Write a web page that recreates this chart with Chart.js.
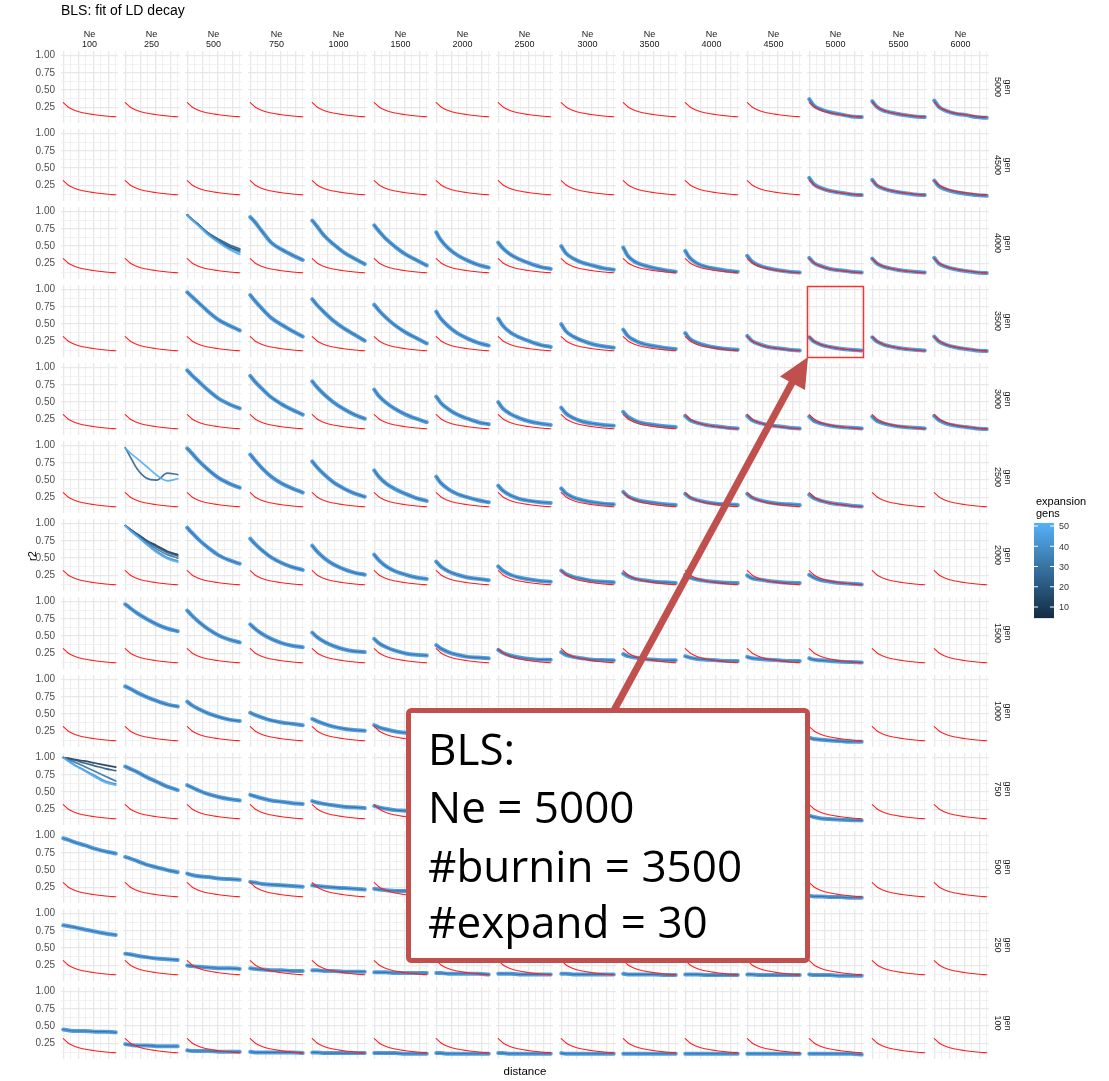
<!DOCTYPE html>
<html><head><meta charset="utf-8">
<script src="https://cdn.jsdelivr.net/npm/chart.js@4/dist/chart.umd.min.js"></script>
<style>
html,body{margin:0;padding:0;background:#fff}
body{width:1109px;height:1081px;position:relative;overflow:hidden;font-family:"Liberation Sans",Arial,sans-serif}
canvas{position:absolute}
#ov{position:absolute;left:0;top:0;z-index:5}
</style></head><body>
<script>
// ---------- data ----------
const neLabels = ['100','250','500','750','1000','1500','2000','2500','3000','3500','4000','4500','5000','5500','6000'];
const genLabels = ['5000','4500','4000','3500','3000','2500','2000','1500','1000','750','500','250','100'];
const distance = [0, 0.3, 0.8, 1.4, 2.1, 2.8, 3.5];
const refDistance = [0, 0.15, 0.3, 0.5, 0.8, 1.1, 1.5, 2, 2.5, 3, 3.5];
const refR2 = [0.32, 0.29, 0.26, 0.235, 0.205, 0.185, 0.165, 0.148, 0.134, 0.122, 0.115];
const yTicks = [0.125, 0.25, 0.375, 0.5, 0.625, 0.75, 0.875, 1];
const yMajorLabels = ['0.25', '0.50', '0.75', '1.00'];
const xTicks = [0, 0.5, 1, 1.5, 2, 2.5, 3, 3.5];
const legendTicks = [10, 20, 30, 40, 50];
const fanGens = [10, 20, 30, 40, 50];
const fanGensTwo = [25, 50];

const fanNe500Gen4000 = [
  [0.95,0.89,0.80,0.68,0.58,0.49,0.43],
  [0.95,0.89,0.80,0.69,0.60,0.52,0.46],
  [0.95,0.89,0.80,0.68,0.59,0.51,0.45],
  [0.94,0.88,0.79,0.67,0.56,0.47,0.41],
  [0.94,0.88,0.78,0.66,0.55,0.45,0.38]];
const fanNe250Gen2500 = [
  [0.97,0.85,0.66,0.53,0.50,0.60,0.58],
  [0.96,0.90,0.81,0.70,0.57,0.49,0.52]];
const fanNe250Gen2000 = [
  [0.97,0.92,0.85,0.76,0.68,0.60,0.55],
  [0.97,0.92,0.84,0.75,0.66,0.58,0.53],
  [0.97,0.91,0.83,0.73,0.63,0.55,0.50],
  [0.97,0.91,0.82,0.71,0.60,0.51,0.46],
  [0.97,0.90,0.81,0.70,0.58,0.49,0.44]];
const fanNe100Gen750 = [
  [1.00,0.99,0.97,0.95,0.92,0.89,0.86],
  [1.00,0.98,0.96,0.92,0.88,0.84,0.81],
  [1.00,0.97,0.93,0.87,0.80,0.73,0.66],
  [1.00,0.96,0.89,0.82,0.74,0.66,0.62],
  [1.00,0.95,0.88,0.81,0.72,0.64,0.60]];

const blueGen5000 = [null,null,null,null,null,null,null,null,null,null,null,null,
  [0.37,0.28,0.22,0.18,0.15,0.12,0.11],[0.34,0.26,0.20,0.17,0.14,0.12,0.11],[0.35,0.26,0.20,0.16,0.14,0.11,0.10]];
const blueGen4500 = [null,null,null,null,null,null,null,null,null,null,null,null,
  [0.36,0.27,0.21,0.17,0.145,0.12,0.11],[0.33,0.25,0.20,0.165,0.14,0.12,0.11],[0.32,0.24,0.19,0.155,0.13,0.11,0.10]];
const blueGen4000 = [null,null,fanNe500Gen4000,
  [0.92,0.85,0.71,0.55,0.45,0.37,0.30],[0.87,0.79,0.65,0.53,0.41,0.32,0.24],[0.80,0.72,0.60,0.49,0.38,0.30,0.22],
  [0.70,0.59,0.47,0.37,0.29,0.23,0.19],[0.55,0.47,0.38,0.31,0.25,0.20,0.17],[0.50,0.40,0.32,0.26,0.22,0.18,0.16],
  [0.48,0.36,0.27,0.22,0.18,0.15,0.13],[0.43,0.33,0.25,0.20,0.17,0.145,0.13],[0.36,0.28,0.22,0.18,0.15,0.13,0.12],
  [0.33,0.26,0.21,0.17,0.15,0.13,0.12],[0.32,0.25,0.20,0.17,0.145,0.13,0.12],[0.33,0.25,0.20,0.165,0.14,0.12,0.11]];
const blueGen3500 = [null,null,
  [0.96,0.90,0.80,0.68,0.56,0.48,0.41],[0.92,0.84,0.72,0.59,0.49,0.40,0.32],[0.86,0.78,0.67,0.55,0.44,0.35,0.26],
  [0.78,0.70,0.59,0.48,0.38,0.30,0.22],[0.68,0.58,0.47,0.37,0.29,0.23,0.19],[0.58,0.48,0.38,0.31,0.25,0.20,0.17],
  [0.50,0.40,0.32,0.26,0.21,0.18,0.16],[0.42,0.33,0.26,0.21,0.18,0.155,0.14],[0.37,0.29,0.23,0.19,0.16,0.14,0.13],
  [0.33,0.26,0.21,0.17,0.15,0.13,0.12],[0.31,0.25,0.20,0.17,0.145,0.13,0.12],[0.31,0.25,0.20,0.17,0.145,0.13,0.12],
  [0.32,0.25,0.20,0.165,0.14,0.12,0.11]];
const blueGen3000 = [null,null,
  [0.96,0.89,0.79,0.67,0.55,0.47,0.41],[0.88,0.80,0.69,0.57,0.47,0.39,0.32],[0.80,0.72,0.61,0.50,0.40,0.32,0.26],
  [0.68,0.59,0.49,0.40,0.32,0.26,0.21],[0.58,0.49,0.40,0.32,0.26,0.21,0.18],[0.50,0.41,0.33,0.27,0.22,0.19,0.17],
  [0.42,0.34,0.27,0.22,0.19,0.17,0.16],[0.36,0.29,0.23,0.19,0.17,0.15,0.14],[0.30,0.24,0.20,0.17,0.15,0.13,0.12],
  [0.30,0.24,0.20,0.17,0.15,0.13,0.12],[0.29,0.23,0.19,0.16,0.14,0.13,0.12],[0.29,0.23,0.19,0.16,0.14,0.13,0.12],
  [0.30,0.24,0.19,0.16,0.14,0.12,0.11]];
const blueGen2500 = [null,fanNe250Gen2500,
  [0.96,0.89,0.77,0.65,0.53,0.45,0.39],[0.87,0.79,0.67,0.55,0.45,0.38,0.32],[0.77,0.69,0.58,0.47,0.38,0.31,0.26],
  [0.64,0.55,0.45,0.37,0.30,0.24,0.20],[0.55,0.46,0.37,0.30,0.25,0.21,0.18],[0.42,0.35,0.28,0.23,0.20,0.18,0.17],
  [0.38,0.31,0.25,0.21,0.18,0.16,0.15],[0.33,0.27,0.22,0.19,0.17,0.15,0.14],[0.30,0.25,0.21,0.18,0.16,0.15,0.14],
  [0.30,0.25,0.21,0.18,0.16,0.15,0.14],[0.29,0.24,0.20,0.17,0.15,0.13,0.12],null,null];
const blueGen2000 = [null,fanNe250Gen2000,
  [0.94,0.87,0.76,0.65,0.54,0.47,0.42],[0.78,0.71,0.61,0.51,0.43,0.37,0.33],[0.68,0.60,0.50,0.41,0.34,0.29,0.26],
  [0.55,0.47,0.38,0.31,0.26,0.22,0.20],[0.45,0.38,0.31,0.26,0.22,0.20,0.18],[0.38,0.32,0.26,0.22,0.19,0.17,0.16],
  [0.32,0.27,0.23,0.20,0.17,0.16,0.15],[0.28,0.24,0.20,0.18,0.16,0.15,0.14],[0.26,0.22,0.19,0.17,0.155,0.145,0.14],
  [0.25,0.21,0.19,0.17,0.155,0.145,0.14],[0.26,0.22,0.18,0.16,0.14,0.13,0.12],null,null];
const blueGen1500 = [null,
  [0.96,0.91,0.83,0.75,0.67,0.61,0.57],[0.87,0.80,0.70,0.60,0.51,0.45,0.41],[0.67,0.61,0.53,0.46,0.40,0.36,0.34],
  [0.55,0.49,0.42,0.36,0.31,0.28,0.27],[0.46,0.40,0.34,0.29,0.25,0.23,0.22],[0.37,0.32,0.27,0.23,0.20,0.19,0.18],
  [0.30,0.26,0.22,0.19,0.17,0.16,0.16],[0.27,0.23,0.20,0.18,0.16,0.155,0.15],[0.24,0.21,0.19,0.17,0.16,0.15,0.15],
  [0.21,0.19,0.17,0.16,0.15,0.14,0.14],[0.20,0.18,0.17,0.16,0.15,0.14,0.14],[0.18,0.16,0.15,0.14,0.13,0.125,0.12],null,null];
const blueGen1000 = [null,
  [0.90,0.87,0.81,0.75,0.69,0.64,0.61],[0.68,0.63,0.57,0.51,0.46,0.42,0.40],[0.52,0.49,0.45,0.41,0.38,0.36,0.34],
  [0.43,0.40,0.36,0.32,0.29,0.27,0.26],[0.34,0.31,0.28,0.25,0.23,0.22,0.21],[0.28,0.26,0.23,0.21,0.19,0.18,0.18],
  [0.24,0.22,0.20,0.18,0.17,0.16,0.16],[0.21,0.19,0.18,0.17,0.16,0.15,0.15],[0.19,0.18,0.17,0.16,0.15,0.14,0.14],
  [0.18,0.17,0.16,0.15,0.14,0.135,0.13],[0.17,0.16,0.15,0.14,0.135,0.13,0.125],[0.16,0.14,0.13,0.12,0.11,0.10,0.10],null,null];
const blueGen750 = [fanNe100Gen750,
  [0.87,0.84,0.79,0.72,0.65,0.58,0.53],[0.60,0.57,0.52,0.47,0.43,0.40,0.38],[0.46,0.44,0.41,0.38,0.36,0.34,0.33],
  [0.37,0.35,0.33,0.31,0.29,0.28,0.27],[0.30,0.28,0.26,0.24,0.23,0.22,0.21],[0.25,0.23,0.22,0.20,0.19,0.18,0.18],
  [0.21,0.20,0.19,0.18,0.17,0.16,0.16],[0.19,0.18,0.17,0.16,0.15,0.15,0.14],[0.17,0.16,0.15,0.15,0.14,0.14,0.13],
  [0.16,0.15,0.14,0.14,0.13,0.13,0.12],[0.16,0.15,0.14,0.13,0.12,0.12,0.11],[0.16,0.14,0.12,0.11,0.10,0.095,0.09],null,null];
const blueGen500 = [
  [0.96,0.94,0.90,0.86,0.81,0.77,0.74],[0.69,0.67,0.63,0.58,0.54,0.50,0.47],[0.45,0.43,0.41,0.40,0.38,0.37,0.36],
  [0.33,0.32,0.30,0.29,0.28,0.27,0.26],[0.28,0.27,0.26,0.25,0.24,0.23,0.22],[0.23,0.22,0.21,0.20,0.20,0.19,0.19],
  [0.20,0.19,0.18,0.18,0.17,0.17,0.16],[0.18,0.17,0.17,0.16,0.16,0.15,0.15],[0.17,0.16,0.16,0.15,0.15,0.14,0.14],
  [0.16,0.15,0.15,0.14,0.14,0.13,0.13],[0.15,0.14,0.14,0.13,0.13,0.12,0.12],[0.14,0.14,0.13,0.13,0.12,0.12,0.11],
  [0.13,0.12,0.12,0.11,0.11,0.10,0.10],null,null];
const blueGen250 = [
  [0.83,0.82,0.80,0.77,0.74,0.71,0.69],[0.42,0.41,0.39,0.37,0.35,0.34,0.33],[0.25,0.24,0.23,0.22,0.21,0.21,0.20],
  [0.21,0.20,0.19,0.18,0.18,0.17,0.17],[0.18,0.18,0.17,0.17,0.16,0.16,0.16],[0.15,0.15,0.15,0.14,0.14,0.14,0.14],
  [0.14,0.14,0.13,0.13,0.13,0.13,0.12],[0.13,0.13,0.13,0.12,0.12,0.12,0.12],[0.13,0.13,0.12,0.12,0.12,0.12,0.12],
  [0.13,0.12,0.12,0.12,0.12,0.11,0.11],[0.12,0.12,0.12,0.11,0.11,0.11,0.11],[0.12,0.12,0.11,0.11,0.11,0.11,0.11],
  [0.12,0.11,0.11,0.11,0.10,0.10,0.10],null,null];
const blueGen100 = [
  [0.45,0.44,0.43,0.43,0.42,0.42,0.41],[0.24,0.23,0.22,0.22,0.21,0.21,0.21],[0.15,0.14,0.14,0.14,0.13,0.13,0.13],
  [0.13,0.12,0.12,0.12,0.12,0.12,0.11],[0.12,0.12,0.11,0.11,0.11,0.11,0.11],[0.11,0.11,0.11,0.11,0.10,0.10,0.10],
  [0.11,0.11,0.10,0.10,0.10,0.10,0.10],[0.11,0.11,0.10,0.10,0.10,0.10,0.10],[0.11,0.10,0.10,0.10,0.10,0.10,0.10],
  [0.10,0.10,0.10,0.10,0.10,0.10,0.10],[0.10,0.10,0.10,0.10,0.10,0.10,0.10],[0.10,0.10,0.10,0.10,0.10,0.10,0.10],
  [0.10,0.10,0.10,0.10,0.10,0.10,0.09],null,null];

const blueRows = [blueGen5000, blueGen4500, blueGen4000, blueGen3500, blueGen3000, blueGen2500, blueGen2000,
  blueGen1500, blueGen1000, blueGen750, blueGen500, blueGen250, blueGen100];
const fanGenMap = new Map([[fanNe250Gen2500, fanGensTwo]]);

// ---------- layout ----------
const PX0 = 61, PDX = 62.2, PY0 = 51, PDY = 78, PW = 57, PH = 72, LABW = 34, LABPAD = 7;
const Y_MIN = 0.025, Y_MAX = 1.065, X_MIN = -0.15, X_MAX = 3.65;
const panelLeft = c => Math.round(PX0 + PDX * c);
const panelTop = r => PY0 + PDY * r;

function gensColor(g, a) {
  const t = Math.max(0, Math.min(1, (g - 4.5) / 47));
  const lo = [19, 43, 67], hi = [86, 177, 247];
  const c = lo.map((v, i) => Math.round(v + (hi[i] - v) * t));
  return `rgba(${c[0]},${c[1]},${c[2]},${a})`;
}
const pts = (xs, ys) => xs.map((d, i) => ({x: d, y: ys[i]}));
const isMajorY = v => Math.abs(v * 4 - Math.round(v * 4)) < 1e-6;
const isMajorX = v => Math.abs(v - Math.round(v)) < 1e-6;

genLabels.forEach((gl, r) => {
  const row = blueRows[r];
  neLabels.forEach((nl, c) => {
    const extra = c === 0 ? LABW : 0;
    const pad = c === 0 ? LABPAD : 0;
    const cv = document.createElement('canvas');
    cv.width = PW + extra; cv.height = PH + 2 * pad;
    cv.style.left = (panelLeft(c) - extra) + 'px';
    cv.style.top = (panelTop(r) - pad) + 'px';
    cv.style.width = (PW + extra) + 'px';
    cv.style.height = (PH + 2 * pad) + 'px';
    document.body.appendChild(cv);

    const ds = [{data: pts(refDistance, refR2), borderColor: '#ff1f1f', borderWidth: 1.1}];
    const entry = row[c];
    if (entry) {
      if (Array.isArray(entry[0])) {
        const gens = fanGenMap.get(entry) || fanGens;
        const order = entry.map((a, k) => k).sort((a, b) => gens[b] - gens[a]);
        order.forEach(k => ds.push({data: pts(distance, entry[k]), borderColor: gensColor(gens[k], 0.9), borderWidth: 1.7}));
      } else {
        ds.push({data: pts(distance, entry), borderColor: 'rgba(22,50,82,0.4)', borderWidth: 1.1});
        ds.push({data: pts(distance, entry), borderColor: '#559fe0', borderWidth: 4});
      }
    }
    new Chart(cv, {
      type: 'line',
      data: {datasets: ds},
      options: {
        responsive: false, animation: false, events: [],
        layout: {padding: {top: pad, bottom: pad, left: 0, right: 0}},
        plugins: {legend: {display: false}, tooltip: {enabled: false}},
        elements: {point: {radius: 0}, line: {cubicInterpolationMode: 'monotone', borderCapStyle: 'round', borderJoinStyle: 'round'}},
        scales: {
          x: {type: 'linear', min: X_MIN, max: X_MAX,
            afterBuildTicks: s => { s.ticks = xTicks.map(v => ({value: v})); },
            afterFit: s => { s.height = 0; s.paddingLeft = 0; s.paddingRight = 0; },
            ticks: {display: false},
            border: {display: false},
            grid: {drawTicks: false,
              color: ctx => isMajorX(ctx.tick.value) ? '#e8e8e8' : '#efefef',
              lineWidth: ctx => isMajorX(ctx.tick.value) ? 1.3 : 0.9}},
          y: {type: 'linear', min: Y_MIN, max: Y_MAX,
            afterBuildTicks: s => { s.ticks = yTicks.map(v => ({value: v})); },
            afterFit: s => { s.width = extra; s.paddingTop = 0; s.paddingBottom = 0; },
            ticks: {display: c === 0, autoSkip: false, padding: 6, color: '#4d4d4d',
              font: {family: 'Liberation Sans', size: 10},
              callback: v => isMajorY(v) ? yMajorLabels[Math.round(v * 4) - 1] : ''},
            border: {display: false},
            grid: {drawTicks: false,
              color: ctx => isMajorY(ctx.tick.value) ? '#e8e8e8' : '#efefef',
              lineWidth: ctx => isMajorY(ctx.tick.value) ? 1.3 : 0.9}}
        }
      }
    });
  });
});

// ---------- overlay: texts, legend, annotation ----------
const NS = 'http://www.w3.org/2000/svg';
const svg = document.createElementNS(NS, 'svg');
svg.setAttribute('id', 'ov'); svg.setAttribute('width', 1109); svg.setAttribute('height', 1081);
document.body.appendChild(svg);
function el(tag, attrs, text, parent) {
  const e = document.createElementNS(NS, tag);
  for (const k in attrs) e.setAttribute(k, attrs[k]);
  if (text != null) e.textContent = text;
  (parent || svg).appendChild(e);
  return e;
}
const F = 'Liberation Sans, Arial, sans-serif';
el('text', {x: 61, y: 14.5, 'font-family': F, 'font-size': 14, fill: '#000'}, 'BLS: fit of LD decay');
neLabels.forEach((nl, c) => {
  const cx = panelLeft(c) + PW / 2;
  el('text', {x: cx, y: 36.8, 'text-anchor': 'middle', 'font-family': F, 'font-size': 9, fill: '#1a1a1a'}, 'Ne');
  el('text', {x: cx, y: 46.5, 'text-anchor': 'middle', 'font-family': F, 'font-size': 9, fill: '#1a1a1a'}, nl);
});
genLabels.forEach((gl, r) => {
  const cy = panelTop(r) + PH / 2;
  const g = el('g', {transform: `translate(1000,${cy}) rotate(90)`});
  el('text', {x: 0, y: -4.5, 'text-anchor': 'middle', 'font-family': F, 'font-size': 9, fill: '#1a1a1a'}, 'gen', g);
  el('text', {x: 0, y: 5.5, 'text-anchor': 'middle', 'font-family': F, 'font-size': 9, fill: '#1a1a1a'}, gl, g);
});
const gr = el('g', {transform: 'translate(36,556) rotate(-90)'});
el('text', {x: 0, y: 0, 'text-anchor': 'middle', 'font-family': F, 'font-size': 11, fill: '#000'}, 'r2', gr);
el('text', {x: 525, y: 1075, 'text-anchor': 'middle', 'font-family': F, 'font-size': 11.5, fill: '#000'}, 'distance');

// legend
el('text', {x: 1036, y: 505, 'font-family': F, 'font-size': 11, fill: '#000'}, 'expansion');
el('text', {x: 1036, y: 517, 'font-family': F, 'font-size': 11, fill: '#000'}, 'gens');
const defs = el('defs', {});
const lg = el('linearGradient', {id: 'gb', x1: 0, y1: 1, x2: 0, y2: 0}, null, defs);
el('stop', {offset: '0', 'stop-color': '#132B43'}, null, lg);
el('stop', {offset: '1', 'stop-color': '#56B1F7'}, null, lg);
const legY = g => 607 - (g - 10) * 2.025;
el('rect', {x: 1034, y: legY(51.5), width: 20, height: legY(4.5) - legY(51.5), fill: 'url(#gb)'});
legendTicks.forEach(g => {
  const y = legY(g);
  el('line', {x1: 1034, x2: 1038, y1: y, y2: y, stroke: '#fff', 'stroke-width': 1});
  el('line', {x1: 1050, x2: 1054, y1: y, y2: y, stroke: '#fff', 'stroke-width': 1});
  el('text', {x: 1059, y: y + 3.3, 'font-family': F, 'font-size': 9, fill: '#333'}, String(g));
});

// highlight rectangle (Ne 5000, gen 3500)
const hc = neLabels.indexOf('5000'), hr = genLabels.indexOf('3500');
el('rect', {x: panelLeft(hc) + 0.5, y: panelTop(hr) + 1.5, width: PW - 1, height: PH - 1, fill: 'none', stroke: '#ff3030', 'stroke-width': 1.5});

// arrow
el('line', {x1: 612, y1: 714, x2: 793, y2: 381, stroke: '#c0504d', 'stroke-width': 7});
el('polygon', {points: '808,357 805,390 780,376.6', fill: '#c0504d'});
// annotation box
el('rect', {x: 408.5, y: 710.5, width: 399, height: 250, rx: 3, fill: '#fff', stroke: '#c0504d', 'stroke-width': 5});
const BF = 'Open Sans, Noto Sans, sans-serif';
[['BLS:', 765], ['Ne = 5000', 823.3], ['#burnin = 3500', 881.5], ['#expand = 30', 938.3]].forEach(([t, y]) => {
  el('text', {x: 428, y: y, 'font-family': BF, 'font-size': 44, fill: '#000'}, t);
});
</script>
</body></html>
